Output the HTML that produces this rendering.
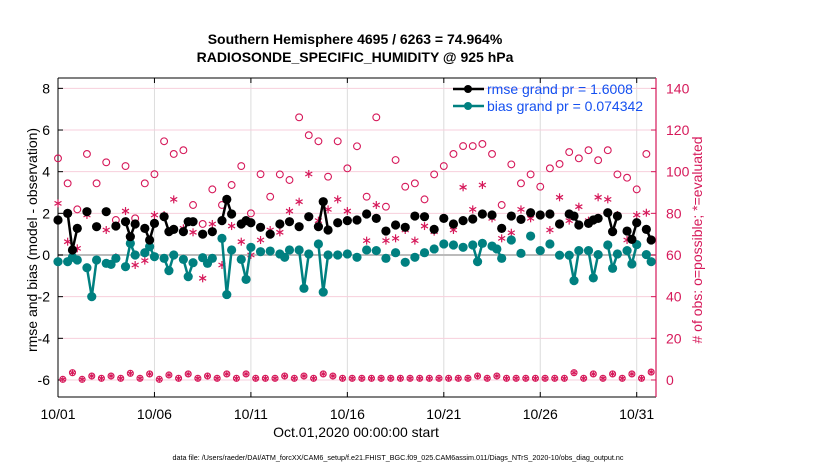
<!DOCTYPE html>
<html><head><meta charset="utf-8"><style>
html,body{margin:0;padding:0;background:#fff;}
svg{display:block;font-family:"Liberation Sans",sans-serif;}
</style></head><body>
<svg id="chart" width="830" height="470" viewBox="0 0 830 470">
<text x="355" y="44" text-anchor="middle" font-size="14" font-weight="bold">Southern Hemisphere 4695 / 6263 = 74.964%</text>
<text x="355" y="62" text-anchor="middle" font-size="14" font-weight="bold">RADIOSONDE_SPECIFIC_HUMIDITY @ 925 hPa</text>
<g id="grid"></g>
<g id="axes"></g>
<g id="marks"></g>
<text transform="translate(37,240) rotate(-90)" text-anchor="middle" font-size="14">rmse and bias (model - observation)</text>
<text transform="translate(702,240) rotate(-90)" text-anchor="middle" font-size="14" fill="#d6195a"># of obs: o=possible; *=evaluated</text>
<text x="356" y="437" text-anchor="middle" font-size="14">Oct.01,2020 00:00:00 start</text>
<text x="398" y="460" text-anchor="middle" font-size="7.2">data file: /Users/raeder/DAI/ATM_forcXX/CAM6_setup/f.e21.FHIST_BGC.f09_025.CAM6assim.011/Diags_NTrS_2020-10/obs_diag_output.nc</text>
<g id="legend">
<line x1="453" y1="89" x2="484" y2="89" stroke="#000" stroke-width="2.5"/>
<circle cx="468" cy="89" r="4" fill="#000"/>
<text x="487" y="94" font-size="14" fill="#1450f0">rmse grand pr = 1.6008</text>
<line x1="453" y1="106" x2="484" y2="106" stroke="#008080" stroke-width="2.5"/>
<circle cx="468" cy="106" r="4" fill="#008080"/>
<text x="487" y="111" font-size="14" fill="#1450f0">bias grand pr = 0.074342</text>
</g>
</svg>
<script>
const rmseT=[0,0.5,0.75,1,1.5,2,2.5,3,3.5,3.75,4,4.5,4.75,5,5.5,5.75,6,6.5,6.75,7,7.5,8,8.5,8.75,9,9.5,9.75,10,10.5,11,11.5,12,12.5,13,13.5,13.75,14,14.5,15,15.5,16,16.5,17,17.5,18,18.5,19,19.5,20,20.5,21,21.5,22,22.5,23,23.5,24,24.5,25,25.5,26,26.5,26.75,27,27.5,27.75,28,28.5,28.75,29,29.5,29.75,30,30.5,30.75];
const rmseV=[1.68,2.0,0.24,1.28,2.08,1.36,2.08,1.39,1.6,0.88,1.49,1.28,0.72,1.52,1.84,1.12,1.23,1.12,1.6,1.6,1.0,1.12,1.65,2.67,1.97,1.49,1.65,1.55,1.33,1.0,1.49,1.6,1.36,1.84,1.36,2.56,1.2,1.55,1.65,1.68,1.97,1.76,1.15,1.44,1.33,1.87,1.84,1.23,1.76,1.49,1.65,1.73,1.97,1.92,1.28,1.87,1.71,2.03,1.92,1.97,1.49,1.97,1.87,1.44,1.52,1.68,1.76,2.03,1.12,1.87,1.15,0.75,1.55,1.23,0.72];
const biasT=[0,0.5,0.75,1,1.5,1.75,2,2.5,2.75,3,3.5,3.75,4,4.5,4.75,5,5.5,5.75,6,6.5,6.75,7,7.5,7.75,8,8.5,8.75,9,9.5,9.75,10,10.5,11,11.5,11.75,12,12.5,12.75,13,13.5,13.75,14,14.5,15,15.5,16,16.5,17,17.5,18,18.5,19,19.5,20,20.5,21,21.5,21.75,22,22.5,22.75,23,23.5,24,24.5,25,25.5,26,26.5,26.75,27,27.5,27.75,28,28.5,28.75,29,29.5,29.75,30,30.5,30.75];
const biasV=[-0.32,-0.32,-0.11,-0.24,-0.61,-2.0,-0.24,-0.40,-0.45,-0.16,-0.56,0.56,0,0.11,0.4,-0.08,-0.16,-0.75,0,-0.21,-1.04,-0.37,-0.13,-0.4,-0.16,0.8,-1.9,0.24,-0.21,-1.17,0.37,0.16,0.19,0.05,-0.11,0.24,0.24,-1.6,0.05,0.53,-1.78,0,0,0.05,-0.11,0.24,0.21,-0.16,0.11,-0.35,-0.11,0.11,0.29,0.53,0.48,0.37,0.48,-0.32,0.56,0.43,0.29,-0.16,0.72,0.08,0.91,0.21,0.53,-0.01,-0.01,-1.23,0.21,0.21,-1.1,0.02,0.48,-0.64,0.05,0.21,-0.43,0.50,0.02,-0.32];
const possibleV=[106.4,94.4,81.9,108.5,94.4,104.5,76.8,102.7,77.6,94.4,98.8,114.6,108.5,110.3,84,74.9,91.5,84,93.6,102.7,80,98.8,88,98.7,96,126.1,117.5,114.6,97.6,114.6,101.6,112.2,88,126.1,83.2,105.6,92.8,94.4,86.7,98.7,102.7,108.5,112.3,112.3,113.3,108.5,84,103.5,94.4,98.7,92.8,101.6,103.7,109.4,106.4,110.3,105.5,110.3,98.7,97.1,91.5,108.5];
const evaluatedV=[84.8,66.4,63.2,79.2,73.6,72,58.9,81.1,55.2,57.3,79.2,79.2,86.7,72.8,70.9,48.8,74.9,55.2,73.9,66.4,60,67.2,72,70.9,81.1,85.6,98.9,76.5,81.9,86.7,81.1,76.8,66.9,84,66.9,68,72,66.9,73.9,71.2,77.6,72,92.5,81.9,93.6,77.6,68,70.7,81.9,77.6,79.2,72,87.7,76.5,83.2,76.5,87.7,86.7,79.2,67.2,79.2,80.3];
const bottomV=[0.3,3.5,0.3,1.9,0.8,1.9,0.8,3.2,0.8,2.9,0.3,2.4,0.8,2.9,0.8,1.9,0.8,2.9,0.8,2.9,0.8,0.8,0.8,1.9,0.8,1.9,0.8,2.9,1.9,0.8,0.8,0.8,0.8,0.8,0.8,0.8,0.8,0.8,0.8,0.8,0.8,0.8,0.8,1.9,0.8,1.9,0.8,0.8,0.8,0.8,0.8,0.8,0.8,3.5,0.8,2.9,0.8,2.9,0.8,2.9,0.8,3.8];
const xTickLabels=["10/01","10/06","10/11","10/16","10/21","10/26","10/31"];
const xTickDays=[0,5,10,15,20,25,30];
const yLeftTicks=[-6,-4,-2,0,2,4,6,8];
const yRightTicks=[0,20,40,60,80,100,120,140];

const NS="http://www.w3.org/2000/svg";
const X0=58,X1=656,YT=78,YB=397;
const xs=d=>X0+d*(X1-X0)/31;
const yl=v=>255-v*20.83;
const yr=r=>yl(r/10-6);
const RED="#d6195a",TEAL="#008080";
function mk(tag,attrs,parent){const e=document.createElementNS(NS,tag);for(const k in attrs)e.setAttribute(k,attrs[k]);parent.appendChild(e);return e;}
const grid=document.getElementById('grid'),axes=document.getElementById('axes'),marks=document.getElementById('marks');

xTickDays.forEach((d,i)=>{
  const g=mk('line',{x1:xs(d),x2:xs(d),y1:YT,y2:YB,stroke:'#dcdcdc','stroke-width':1},grid);
  
  
  const t=mk('text',{x:xs(d),y:YB+22,'text-anchor':'middle','font-size':14},axes);
  t.textContent=xTickLabels[i];
  
  
  mk('line',{x1:xs(d),x2:xs(d),y1:YB,y2:YB-5,stroke:'#000'},axes);
  mk('line',{x1:xs(d),x2:xs(d),y1:YT,y2:YT+5,stroke:'#000'},axes);
});
yRightTicks.forEach(r=>{
  const g=mk('line',{x1:X0,x2:X1,y1:yr(r),y2:yr(r),stroke:'#f7cfdc','stroke-width':1},grid);
  
  
  const t=mk('text',{x:X1+10,y:yr(r)+5,'font-size':14,fill:RED},axes);
  t.textContent=r;
  
  
  mk('line',{x1:X1,x2:X1-5,y1:yr(r),y2:yr(r),stroke:RED},axes);
});
yLeftTicks.forEach(v=>{
  const t=mk('text',{x:X0-8,y:yl(v)+5,'text-anchor':'end','font-size':14},axes);
  t.textContent=v;
  
  
  mk('line',{x1:X0,x2:X0+5,y1:yl(v),y2:yl(v),stroke:'#000'},axes);
});
const zl=mk('line',{x1:X0,x2:X1,y1:yl(0),y2:yl(0),stroke:'#bbbbbb','stroke-width':2},grid);


mk('line',{x1:X0,x2:X1,y1:YT,y2:YT,stroke:'#000'},axes);
mk('line',{x1:X0,x2:X1,y1:YB,y2:YB,stroke:'#000'},axes);
const la=mk('line',{x1:X0,x2:X0,y1:YT,y2:YB,stroke:'#000'},axes);


const ra=mk('line',{x1:X1,x2:X1,y1:YT,y2:YB,stroke:RED,'stroke-width':1.2},axes);



function star(cx,cy,s,parent,name){
  const g=mk('g',{stroke:RED,'stroke-width':1.2},parent);
  
  
  mk('line',{x1:cx,x2:cx,y1:cy-s,y2:cy+s},g);
  mk('line',{x1:cx-s*0.87,x2:cx+s*0.87,y1:cy-s/2,y2:cy+s/2},g);
  mk('line',{x1:cx-s*0.87,x2:cx+s*0.87,y1:cy+s/2,y2:cy-s/2},g);
}
possibleV.forEach((r,i)=>{
  const c=mk('circle',{cx:xs(i*0.5),cy:yr(r),r:3.4,fill:'none',stroke:RED,'stroke-width':1.1},marks);
  
  
});
evaluatedV.forEach((r,i)=>{star(xs(i*0.5),yr(r),4,marks,'evaluated-obs-point');});
bottomV.forEach((r,i)=>{
  const c=mk('circle',{cx:xs(0.25+i*0.5),cy:yr(r),r:3,fill:'none',stroke:RED,'stroke-width':1.1},marks);
  
  
  star(xs(0.25+i*0.5),yr(r),3.2,marks,'bottom-evaluated-point');
});
function series(T,V,color,name){
  for(let i=1;i<T.length;i++){
    if(T[i]-T[i-1]<=0.26){
      const l=mk('line',{x1:xs(T[i-1]),y1:yl(V[i-1]),x2:xs(T[i]),y2:yl(V[i]),stroke:color,'stroke-width':2.5},marks);
      
      
    }
  }
  T.forEach((t,i)=>{
    const c=mk('circle',{cx:xs(t),cy:yl(V[i]),r:4.6,fill:color},marks);
    
    
  });
}
series(biasT,biasV,TEAL,'bias');
series(rmseT,rmseV,'#000','rmse');
</script>
</body></html>
